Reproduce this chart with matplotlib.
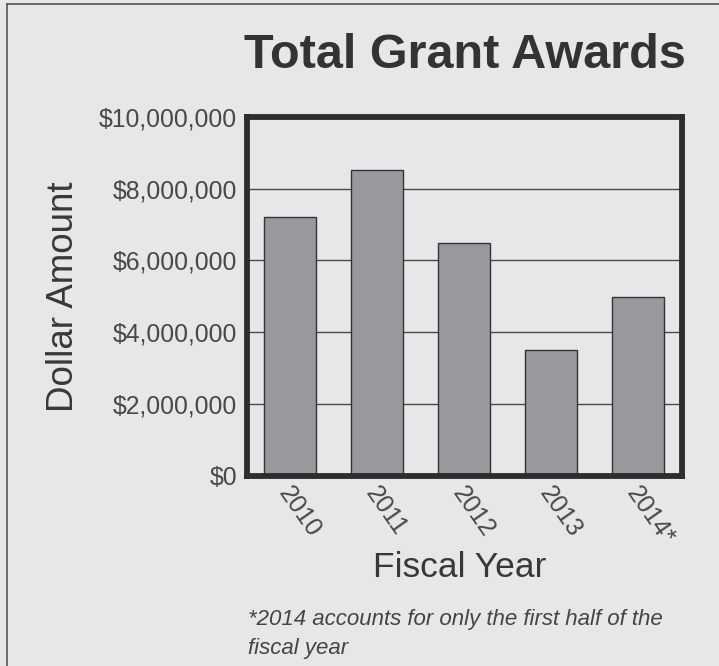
import matplotlib
matplotlib.use("Agg")
import matplotlib.pyplot as plt
from matplotlib.lines import Line2D
from matplotlib.ticker import FuncFormatter

years = ["2010", "2011", "2012", "2013", "2014*"]
awards = [7200000, 8520000, 6480000, 3500000, 4980000]
yticks = [0, 2000000, 4000000, 6000000, 8000000, 10000000]

BG = "#e6e7e8"
TXT = "#383838"
FRAME = "#2d2d2d"
BAR = "#98999c"

plt.rcParams['font.family'] = ['Liberation Sans', 'DejaVu Sans']

fig = plt.figure(figsize=(7.19, 6.66), dpi=100, facecolor=BG)
ax = fig.add_axes([0.3433, 0.2853, 0.6046, 0.5395])
ax.set_facecolor(BG)

x = list(range(len(years)))
ax.bar(x, awards, width=0.6, color=BAR, edgecolor="#333333", linewidth=1.0, zorder=3)

ax.set_xlim(-0.5, 4.5)
ax.set_ylim(0, 10000000)
ax.set_yticks(yticks)
ax.yaxis.set_major_formatter(FuncFormatter(lambda v, p: "${:,.0f}".format(v)))
ax.grid(axis="y", color="#4a4a4a", linewidth=1.0, zorder=1)
ax.tick_params(axis="y", length=0, pad=7, labelsize=17.8, labelcolor="#484848")
ax.tick_params(axis="x", length=0)
ax.set_xticks(x)
ax.set_xticklabels([])
for s in ax.spines.values():
    s.set_linewidth(4.2)
    s.set_color(FRAME)
    s.set_zorder(5)

for xi, lab in zip(x, years):
    ax.annotate(lab, xy=(xi, 0), xycoords=("data", "axes fraction"),
                xytext=(-5, -9), textcoords="offset points",
                rotation=-55, rotation_mode="anchor", ha="left", va="center",
                fontsize=18, color="#484848")

ax.set_ylabel("Dollar Amount", fontsize=26.5, color=TXT)
ax.yaxis.set_label_coords(-0.382, 0.5)

fig.text(0.647, 0.916, "Total Grant Awards", ha="center", va="center",
         fontsize=35, fontweight="bold", color="#333333")
fig.text(0.640, 0.148, "Fiscal Year", ha="center", va="center",
         fontsize=25.5, color=TXT)
fig.text(0.345, 0.048, "*2014 accounts for only the first half of the\nfiscal year",
         ha="left", va="center", fontsize=16, style="italic", color="#444444",
         linespacing=1.5)

fig.add_artist(Line2D([0.0097, 0.0097], [0, 0.9935], transform=fig.transFigure,
                      color="#555555", linewidth=1.2))
fig.add_artist(Line2D([0.0097, 1.0], [0.9935, 0.9935], transform=fig.transFigure,
                      color="#555555", linewidth=1.2))

fig.savefig("out.png", dpi=100, facecolor=BG)
